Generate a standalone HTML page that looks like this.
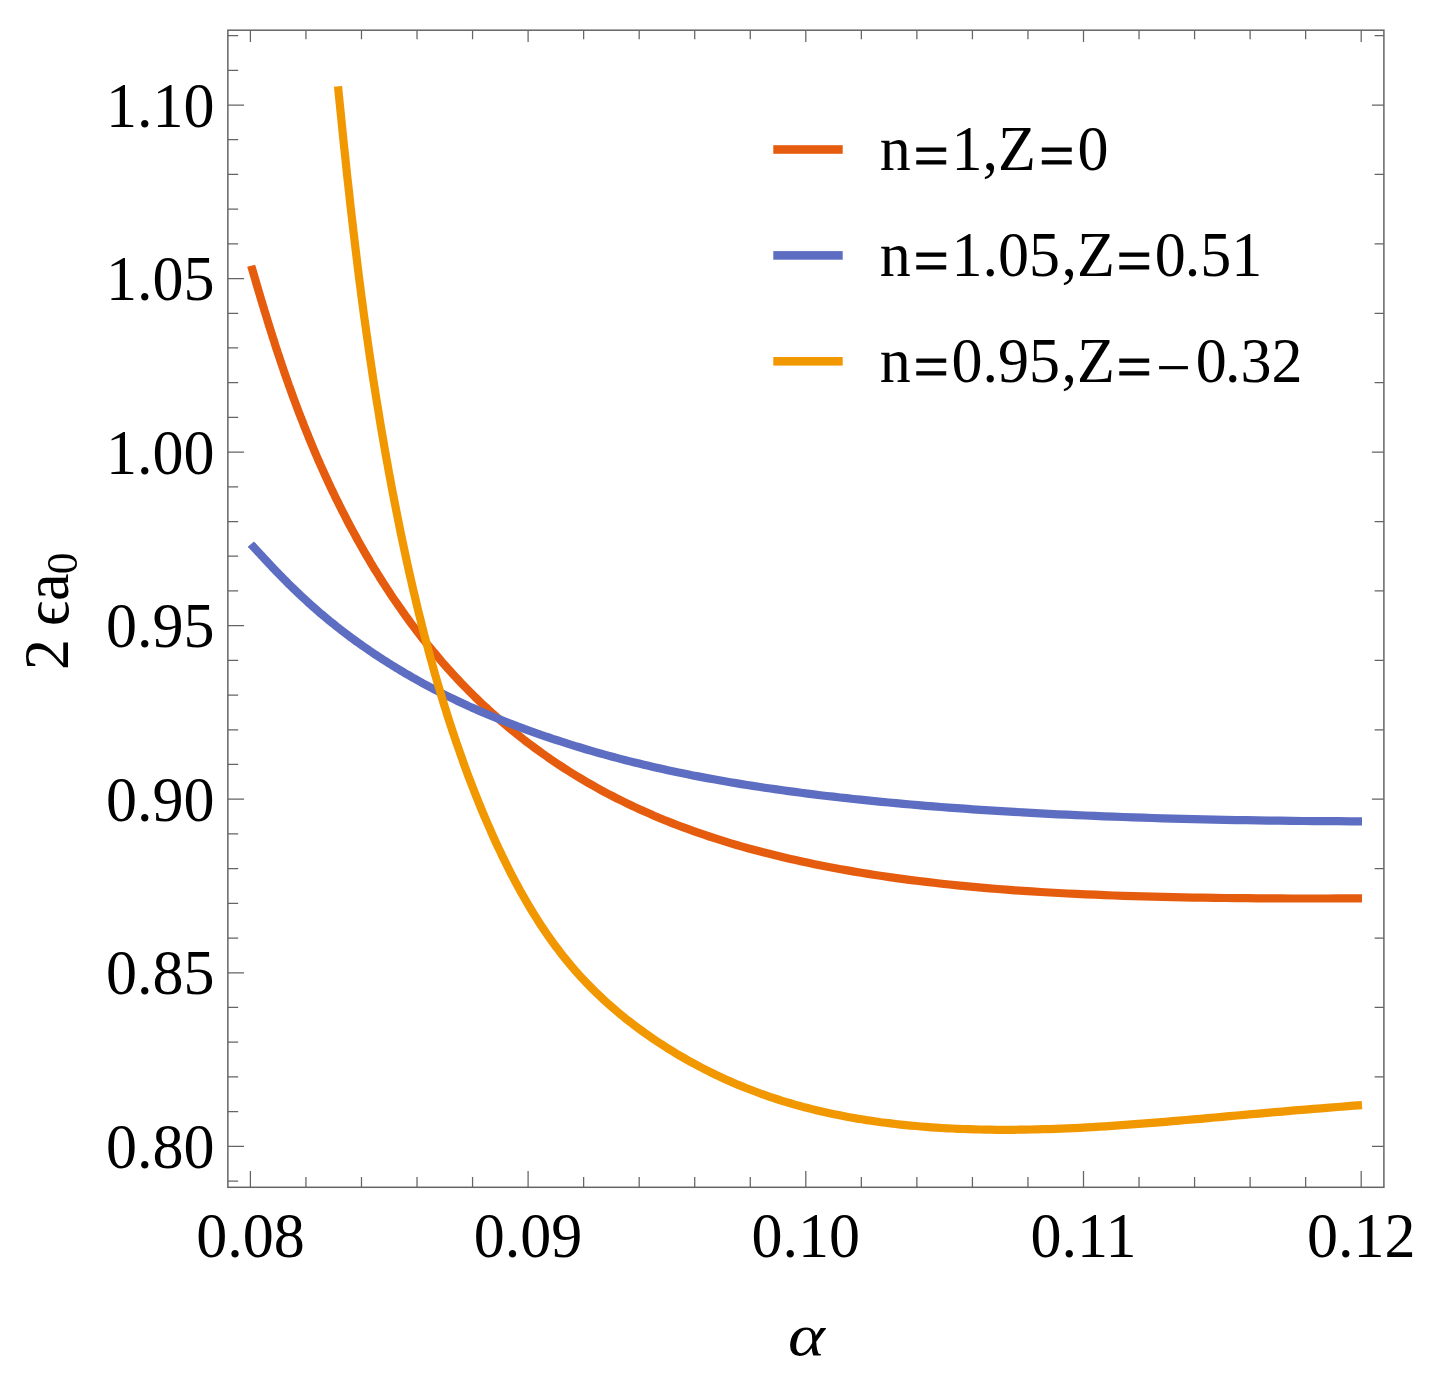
<!DOCTYPE html>
<html><head><meta charset="utf-8"><title>plot</title>
<style>html,body{margin:0;padding:0;background:#fff}svg{display:block}</style></head>
<body>
<svg width="1437" height="1373" viewBox="0 0 1437 1373">
<rect width="1437" height="1373" fill="#fff"/>
<g fill="none" stroke-linejoin="round" stroke-linecap="butt">
<path d="M251.2,265.7 L251.7,267.6 L252.3,269.4 L252.8,271.3 L253.4,273.2 L253.9,275.1 L254.5,277.0 L255.1,279.0 L255.7,281.0 L256.2,283.0 L256.8,285.0 L257.4,287.0 L258.0,289.0 L258.6,291.1 L259.3,293.2 L259.9,295.3 L260.5,297.4 L261.1,299.5 L261.8,301.6 L262.4,303.8 L263.1,306.0 L263.8,308.2 L264.4,310.4 L265.1,312.6 L265.8,314.8 L266.5,317.1 L267.2,319.4 L267.9,321.7 L268.6,324.0 L269.3,326.3 L270.0,328.6 L270.8,330.9 L271.5,333.3 L272.3,335.7 L273.0,338.0 L273.8,340.4 L274.6,342.8 L275.3,345.3 L276.1,347.7 L276.9,350.1 L277.7,352.6 L278.6,355.1 L279.4,357.6 L280.2,360.0 L281.1,362.6 L281.9,365.1 L282.8,367.6 L283.6,370.1 L284.5,372.7 L285.4,375.3 L286.3,377.8 L287.2,380.4 L288.1,383.0 L289.0,385.6 L290.0,388.2 L290.9,390.8 L291.9,393.5 L292.8,396.1 L293.8,398.8 L294.8,401.4 L295.8,404.1 L296.8,406.8 L297.8,409.5 L298.8,412.2 L299.9,414.9 L300.9,417.6 L302.0,420.3 L303.1,423.1 L304.1,425.8 L305.2,428.6 L306.3,431.3 L307.5,434.1 L308.6,436.9 L309.7,439.6 L310.9,442.4 L312.0,445.2 L313.2,448.0 L314.4,450.8 L315.6,453.7 L316.8,456.5 L318.0,459.3 L319.3,462.2 L320.5,465.0 L321.8,467.9 L323.1,470.7 L324.4,473.6 L325.7,476.4 L327.0,479.3 L328.3,482.2 L329.7,485.1 L331.0,488.0 L332.4,490.9 L333.8,493.8 L335.2,496.7 L336.6,499.6 L338.1,502.5 L339.5,505.4 L341.0,508.3 L342.5,511.3 L344.0,514.2 L345.5,517.1 L347.0,520.1 L348.5,523.0 L350.1,526.0 L351.7,528.9 L353.3,531.9 L354.9,534.8 L356.5,537.8 L358.1,540.8 L359.8,543.7 L361.5,546.7 L363.2,549.7 L364.9,552.7 L366.6,555.6 L368.4,558.6 L370.1,561.6 L371.9,564.6 L373.7,567.6 L375.5,570.6 L377.4,573.5 L379.2,576.5 L381.1,579.5 L383.0,582.5 L385.0,585.5 L386.9,588.5 L388.9,591.5 L390.8,594.5 L392.8,597.5 L394.9,600.5 L396.9,603.4 L399.0,606.4 L401.1,609.4 L403.2,612.4 L405.3,615.4 L407.5,618.3 L409.6,621.3 L411.8,624.3 L414.1,627.3 L416.3,630.2 L418.6,633.2 L420.9,636.2 L423.2,639.1 L425.5,642.1 L427.9,645.0 L430.3,647.9 L432.7,650.9 L435.2,653.8 L437.6,656.7 L440.1,659.7 L442.6,662.6 L445.2,665.5 L447.8,668.4 L450.4,671.3 L453.0,674.2 L455.6,677.0 L458.3,679.9 L461.0,682.8 L463.8,685.6 L466.6,688.5 L469.4,691.3 L472.2,694.1 L475.0,697.0 L477.9,699.8 L480.8,702.6 L483.8,705.4 L486.8,708.1 L489.8,710.9 L492.8,713.7 L495.9,716.4 L499.0,719.1 L502.1,721.9 L505.3,724.6 L508.5,727.3 L511.8,730.0 L515.0,732.6 L518.3,735.3 L521.7,737.9 L525.0,740.6 L528.5,743.2 L531.9,745.8 L535.4,748.4 L538.9,750.9 L542.5,753.5 L546.1,756.0 L549.7,758.6 L553.4,761.1 L557.1,763.6 L560.8,766.0 L564.6,768.5 L568.4,770.9 L572.3,773.4 L576.2,775.8 L580.2,778.1 L584.2,780.5 L588.2,782.9 L592.3,785.2 L596.4,787.5 L600.5,789.8 L604.7,792.1 L609.0,794.3 L613.3,796.5 L617.6,798.8 L622.0,800.9 L626.4,803.1 L630.9,805.3 L635.4,807.4 L640.0,809.5 L644.6,811.6 L649.3,813.6 L654.0,815.7 L658.8,817.7 L663.6,819.7 L668.5,821.6 L673.4,823.6 L678.3,825.5 L683.4,827.4 L688.4,829.2 L693.6,831.1 L698.7,832.9 L704.0,834.7 L709.3,836.5 L714.6,838.2 L720.0,839.9 L725.5,841.6 L731.0,843.3 L736.6,845.0 L742.2,846.6 L747.9,848.2 L753.6,849.8 L759.5,851.3 L765.3,852.8 L771.3,854.3 L777.3,855.8 L783.3,857.3 L789.4,858.7 L795.6,860.1 L801.9,861.5 L808.2,862.8 L814.6,864.2 L821.0,865.5 L827.5,866.7 L834.1,868.0 L840.8,869.2 L847.5,870.4 L854.3,871.6 L861.2,872.7 L868.1,873.9 L875.1,875.0 L882.2,876.0 L889.4,877.1 L896.6,878.1 L903.9,879.1 L911.3,880.1 L918.8,881.0 L926.3,881.9 L934.0,882.8 L941.7,883.7 L949.4,884.5 L957.3,885.3 L965.3,886.1 L973.3,886.9 L981.4,887.6 L989.6,888.3 L997.9,889.0 L1006.3,889.6 L1014.7,890.3 L1023.3,890.9 L1031.9,891.4 L1040.7,892.0 L1049.5,892.5 L1058.4,893.0 L1067.4,893.5 L1076.5,893.9 L1085.7,894.3 L1095.0,894.7 L1104.4,895.1 L1113.9,895.5 L1123.5,895.8 L1133.2,896.1 L1143.0,896.4 L1152.9,896.7 L1162.9,896.9 L1173.0,897.2 L1183.2,897.4 L1193.5,897.6 L1204.0,897.7 L1214.5,897.9 L1225.1,898.0 L1235.9,898.1 L1246.8,898.2 L1257.8,898.3 L1268.9,898.4 L1280.1,898.4 L1291.4,898.5 L1302.9,898.5 L1314.5,898.5 L1326.2,898.5 L1338.0,898.4 L1349.9,898.4 L1362.0,898.4" stroke="#E65C0E" stroke-width="8.2"/>
<path d="M250.9,544.2 L251.4,544.8 L252.0,545.3 L252.5,545.9 L253.1,546.5 L253.6,547.1 L254.2,547.7 L254.8,548.3 L255.3,548.9 L255.9,549.5 L256.5,550.2 L257.1,550.8 L257.7,551.5 L258.3,552.1 L258.9,552.8 L259.5,553.4 L260.2,554.1 L260.8,554.8 L261.4,555.5 L262.1,556.2 L262.7,556.9 L263.4,557.6 L264.1,558.3 L264.7,559.0 L265.4,559.8 L266.1,560.5 L266.8,561.2 L267.5,562.0 L268.2,562.8 L268.9,563.5 L269.7,564.3 L270.4,565.1 L271.1,565.9 L271.9,566.7 L272.6,567.5 L273.4,568.3 L274.2,569.1 L275.0,569.9 L275.7,570.7 L276.5,571.6 L277.3,572.4 L278.2,573.2 L279.0,574.1 L279.8,574.9 L280.7,575.8 L281.5,576.7 L282.4,577.6 L283.2,578.4 L284.1,579.3 L285.0,580.2 L285.9,581.1 L286.8,582.0 L287.7,582.9 L288.6,583.9 L289.5,584.8 L290.5,585.7 L291.4,586.6 L292.4,587.6 L293.4,588.5 L294.4,589.5 L295.4,590.4 L296.4,591.4 L297.4,592.4 L298.4,593.3 L299.4,594.3 L300.5,595.3 L301.5,596.3 L302.6,597.3 L303.7,598.3 L304.8,599.3 L305.9,600.3 L307.0,601.3 L308.1,602.4 L309.2,603.4 L310.4,604.4 L311.6,605.5 L312.7,606.5 L313.9,607.5 L315.1,608.6 L316.3,609.7 L317.5,610.7 L318.8,611.8 L320.0,612.9 L321.3,613.9 L322.6,615.0 L323.9,616.1 L325.2,617.2 L326.5,618.3 L327.8,619.4 L329.1,620.5 L330.5,621.6 L331.9,622.7 L333.3,623.8 L334.7,624.9 L336.1,626.1 L337.5,627.2 L339.0,628.3 L340.4,629.5 L341.9,630.6 L343.4,631.8 L344.9,632.9 L346.4,634.1 L348.0,635.2 L349.5,636.4 L351.1,637.6 L352.7,638.7 L354.3,639.9 L355.9,641.1 L357.5,642.3 L359.2,643.4 L360.9,644.6 L362.6,645.8 L364.3,647.0 L366.0,648.2 L367.8,649.4 L369.5,650.6 L371.3,651.8 L373.1,653.1 L374.9,654.3 L376.8,655.5 L378.6,656.7 L380.5,657.9 L382.4,659.2 L384.3,660.4 L386.3,661.6 L388.2,662.9 L390.2,664.1 L392.2,665.4 L394.2,666.6 L396.3,667.9 L398.3,669.1 L400.4,670.4 L402.5,671.6 L404.6,672.9 L406.8,674.2 L409.0,675.4 L411.2,676.7 L413.4,678.0 L415.6,679.2 L417.9,680.5 L420.2,681.8 L422.5,683.1 L424.8,684.3 L427.2,685.6 L429.6,686.9 L432.0,688.2 L434.5,689.5 L436.9,690.7 L439.4,692.0 L441.9,693.3 L444.5,694.6 L447.0,695.9 L449.6,697.1 L452.3,698.4 L454.9,699.7 L457.6,701.0 L460.3,702.3 L463.0,703.5 L465.8,704.8 L468.6,706.1 L471.4,707.4 L474.3,708.6 L477.2,709.9 L480.1,711.2 L483.0,712.5 L486.0,713.7 L489.0,715.0 L492.1,716.3 L495.1,717.5 L498.2,718.8 L501.4,720.1 L504.5,721.3 L507.7,722.6 L511.0,723.8 L514.3,725.1 L517.6,726.4 L520.9,727.6 L524.3,728.9 L527.7,730.1 L531.1,731.3 L534.6,732.6 L538.1,733.8 L541.7,735.1 L545.3,736.3 L548.9,737.5 L552.6,738.8 L556.3,740.0 L560.0,741.2 L563.8,742.4 L567.6,743.7 L571.5,744.9 L575.4,746.1 L579.4,747.3 L583.4,748.5 L587.4,749.7 L591.5,750.9 L595.6,752.1 L599.7,753.3 L603.9,754.4 L608.2,755.6 L612.5,756.8 L616.8,757.9 L621.2,759.1 L625.6,760.2 L630.1,761.4 L634.6,762.5 L639.2,763.6 L643.8,764.7 L648.5,765.8 L653.2,766.9 L658.0,768.0 L662.8,769.1 L667.7,770.2 L672.6,771.2 L677.5,772.3 L682.6,773.3 L687.6,774.3 L692.8,775.4 L698.0,776.4 L703.2,777.4 L708.5,778.4 L713.8,779.3 L719.2,780.3 L724.7,781.3 L730.2,782.2 L735.8,783.1 L741.4,784.1 L747.1,785.0 L752.9,785.9 L758.7,786.8 L764.6,787.7 L770.5,788.5 L776.5,789.4 L782.6,790.3 L788.7,791.1 L794.9,791.9 L801.1,792.8 L807.5,793.6 L813.8,794.4 L820.3,795.2 L826.8,796.0 L833.4,796.7 L840.1,797.5 L846.8,798.2 L853.6,799.0 L860.5,799.7 L867.4,800.4 L874.4,801.1 L881.5,801.8 L888.7,802.5 L895.9,803.2 L903.3,803.8 L910.7,804.5 L918.1,805.1 L925.7,805.8 L933.3,806.4 L941.0,807.0 L948.8,807.6 L956.7,808.2 L964.7,808.7 L972.7,809.3 L980.8,809.9 L989.0,810.4 L997.3,810.9 L1005.7,811.4 L1014.2,811.9 L1022.8,812.4 L1031.4,812.9 L1040.2,813.4 L1049.0,813.8 L1057.9,814.3 L1066.9,814.7 L1076.1,815.1 L1085.3,815.5 L1094.6,815.9 L1104.0,816.3 L1113.5,816.7 L1123.1,817.0 L1132.8,817.4 L1142.6,817.7 L1152.5,818.0 L1162.6,818.3 L1172.7,818.6 L1182.9,818.9 L1193.2,819.1 L1203.7,819.4 L1214.2,819.6 L1224.9,819.8 L1235.7,820.1 L1246.6,820.2 L1257.6,820.4 L1268.7,820.6 L1279.9,820.7 L1291.3,820.9 L1302.8,821.0 L1314.4,821.1 L1326.1,821.2 L1337.9,821.2 L1349.9,821.3 L1362.0,821.4" stroke="#5D6DC1" stroke-width="8.2"/>
<path d="M338.0,86.3 L339.0,96.3 L340.0,106.2 L341.0,116.1 L342.0,126.1 L343.0,135.9 L344.0,145.8 L345.1,155.6 L346.1,165.4 L347.1,175.1 L348.2,184.8 L349.3,194.5 L350.3,204.1 L351.4,213.6 L352.5,223.0 L353.6,232.4 L354.7,241.8 L355.8,251.0 L356.9,260.1 L358.0,269.2 L359.1,278.2 L360.3,287.1 L361.4,295.9 L362.6,304.6 L363.7,313.2 L364.9,321.8 L366.1,330.3 L367.3,338.7 L368.5,347.0 L369.7,355.3 L370.9,363.4 L372.1,371.6 L373.3,379.6 L374.6,387.6 L375.8,395.5 L377.1,403.4 L378.4,411.2 L379.6,418.9 L380.9,426.6 L382.2,434.2 L383.5,441.8 L384.8,449.4 L386.1,456.8 L387.5,464.3 L388.8,471.6 L390.2,478.9 L391.5,486.2 L392.9,493.4 L394.3,500.6 L395.7,507.7 L397.1,514.8 L398.5,521.8 L399.9,528.8 L401.3,535.7 L402.8,542.6 L404.2,549.4 L405.7,556.2 L407.1,562.9 L408.6,569.5 L410.1,576.2 L411.6,582.7 L413.1,589.3 L414.7,595.8 L416.2,602.2 L417.7,608.6 L419.3,614.9 L420.9,621.2 L422.4,627.5 L424.0,633.7 L425.6,639.8 L427.3,645.9 L428.9,652.0 L430.5,658.0 L432.2,664.0 L433.8,669.9 L435.5,675.8 L437.2,681.6 L438.9,687.4 L440.6,693.1 L442.3,698.8 L444.0,704.5 L445.8,710.1 L447.5,715.7 L449.3,721.2 L451.1,726.7 L452.9,732.1 L454.7,737.5 L456.5,742.9 L458.4,748.2 L460.2,753.5 L462.1,758.7 L463.9,764.0 L465.8,769.1 L467.7,774.3 L469.6,779.3 L471.6,784.4 L473.5,789.4 L475.5,794.4 L477.4,799.3 L479.4,804.3 L481.4,809.1 L483.4,814.0 L485.5,818.8 L487.5,823.5 L489.6,828.2 L491.6,832.9 L493.7,837.6 L495.8,842.2 L497.9,846.8 L500.1,851.3 L502.2,855.8 L504.4,860.2 L506.5,864.6 L508.7,869.0 L510.9,873.3 L513.2,877.6 L515.4,881.8 L517.7,886.0 L519.9,890.2 L522.2,894.3 L524.5,898.3 L526.8,902.3 L529.2,906.3 L531.5,910.2 L533.9,914.1 L536.3,917.9 L538.7,921.7 L541.1,925.4 L543.6,929.1 L546.0,932.7 L548.5,936.3 L551.0,939.8 L553.5,943.3 L556.0,946.7 L558.6,950.1 L561.1,953.4 L563.7,956.7 L566.3,959.9 L568.9,963.1 L571.6,966.3 L574.2,969.4 L576.9,972.4 L579.6,975.4 L582.3,978.4 L585.1,981.3 L587.8,984.2 L590.6,987.0 L593.4,989.8 L596.2,992.6 L599.0,995.3 L601.9,998.0 L604.7,1000.7 L607.6,1003.3 L610.6,1005.9 L613.5,1008.4 L616.5,1011.0 L619.4,1013.5 L622.4,1015.9 L625.4,1018.4 L628.5,1020.8 L631.6,1023.1 L634.6,1025.5 L637.8,1027.8 L640.9,1030.1 L644.0,1032.4 L647.2,1034.6 L650.4,1036.9 L653.6,1039.1 L656.9,1041.3 L660.1,1043.4 L663.4,1045.5 L666.7,1047.7 L670.1,1049.8 L673.4,1051.8 L676.8,1053.9 L680.2,1055.9 L683.7,1057.9 L687.1,1059.9 L690.6,1061.8 L694.1,1063.7 L697.7,1065.6 L701.2,1067.5 L704.8,1069.4 L708.4,1071.2 L712.0,1073.0 L715.7,1074.8 L719.4,1076.5 L723.1,1078.2 L726.9,1079.9 L730.6,1081.6 L734.4,1083.2 L738.2,1084.9 L742.1,1086.4 L746.0,1088.0 L749.9,1089.5 L753.8,1091.0 L757.8,1092.5 L761.7,1094.0 L765.8,1095.4 L769.8,1096.8 L773.9,1098.2 L778.0,1099.5 L782.1,1100.8 L786.3,1102.1 L790.5,1103.3 L794.7,1104.6 L799.0,1105.7 L803.2,1106.9 L807.6,1108.0 L811.9,1109.1 L816.3,1110.2 L820.7,1111.3 L825.1,1112.3 L829.6,1113.3 L834.1,1114.2 L838.6,1115.1 L843.2,1116.0 L847.8,1116.9 L852.4,1117.7 L857.1,1118.6 L861.8,1119.3 L866.5,1120.1 L871.3,1120.8 L876.1,1121.5 L880.9,1122.2 L885.8,1122.8 L890.7,1123.4 L895.6,1124.0 L900.6,1124.6 L905.6,1125.1 L910.7,1125.6 L915.8,1126.0 L920.9,1126.5 L926.0,1126.9 L931.2,1127.3 L936.4,1127.6 L941.7,1128.0 L947.0,1128.3 L952.4,1128.5 L957.7,1128.8 L963.2,1129.0 L968.6,1129.2 L974.1,1129.4 L979.7,1129.5 L985.2,1129.6 L990.8,1129.7 L996.5,1129.8 L1002.2,1129.8 L1007.9,1129.8 L1013.7,1129.8 L1019.5,1129.7 L1025.4,1129.6 L1031.3,1129.5 L1037.2,1129.4 L1043.2,1129.2 L1049.3,1129.1 L1055.3,1128.9 L1061.4,1128.6 L1067.6,1128.4 L1073.8,1128.1 L1080.1,1127.8 L1086.4,1127.4 L1092.7,1127.1 L1099.1,1126.7 L1105.5,1126.3 L1112.0,1125.8 L1118.5,1125.4 L1125.1,1124.9 L1131.7,1124.4 L1138.3,1123.9 L1145.1,1123.4 L1151.8,1122.9 L1158.6,1122.3 L1165.5,1121.8 L1172.4,1121.2 L1179.3,1120.6 L1186.3,1120.0 L1193.4,1119.4 L1200.5,1118.8 L1207.7,1118.1 L1214.9,1117.5 L1222.1,1116.9 L1229.4,1116.2 L1236.8,1115.5 L1244.2,1114.9 L1251.7,1114.2 L1259.2,1113.6 L1266.8,1112.9 L1274.4,1112.2 L1282.1,1111.6 L1289.8,1110.9 L1297.6,1110.2 L1305.5,1109.6 L1313.4,1108.9 L1321.3,1108.3 L1329.3,1107.6 L1337.4,1107.0 L1345.6,1106.4 L1353.7,1105.7 L1362.0,1105.1" stroke="#F19700" stroke-width="8.2"/>
</g>
<path d="M227.87,1181.01H238.17M227.87,1146.30H244.07M227.87,1111.59H238.17M227.87,1076.88H238.17M227.87,1042.17H238.17M227.87,1007.46H238.17M227.87,972.75H244.07M227.87,938.04H238.17M227.87,903.33H238.17M227.87,868.62H238.17M227.87,833.91H238.17M227.87,799.20H244.07M227.87,764.49H238.17M227.87,729.78H238.17M227.87,695.07H238.17M227.87,660.36H238.17M227.87,625.65H244.07M227.87,590.94H238.17M227.87,556.23H238.17M227.87,521.52H238.17M227.87,486.81H238.17M227.87,452.10H244.07M227.87,417.39H238.17M227.87,382.68H238.17M227.87,347.97H238.17M227.87,313.26H238.17M227.87,278.55H244.07M227.87,243.84H238.17M227.87,209.13H238.17M227.87,174.42H238.17M227.87,139.71H238.17M227.87,105.00H244.07M227.87,70.29H238.17M227.87,35.58H238.17M1383.90,1146.30H1371.90M1383.90,1076.88H1374.60M1383.90,1007.46H1374.60M1383.90,938.04H1374.60M1383.90,868.62H1374.60M1383.90,799.20H1371.90M1383.90,729.78H1374.60M1383.90,660.36H1374.60M1383.90,590.94H1374.60M1383.90,521.52H1374.60M1383.90,452.10H1371.90M1383.90,382.68H1374.60M1383.90,313.26H1374.60M1383.90,243.84H1374.60M1383.90,174.42H1374.60M1383.90,105.00H1371.90M1383.90,35.58H1374.60M250.40,1187.30V1171.00M250.40,30.20V42.10M305.94,1187.30V1176.90M305.94,30.20V39.30M361.48,1187.30V1176.90M361.48,30.20V39.30M417.02,1187.30V1176.90M417.02,30.20V39.30M472.56,1187.30V1176.90M472.56,30.20V39.30M528.10,1187.30V1171.00M528.10,30.20V42.10M583.64,1187.30V1176.90M583.64,30.20V39.30M639.18,1187.30V1176.90M639.18,30.20V39.30M694.72,1187.30V1176.90M694.72,30.20V39.30M750.26,1187.30V1176.90M750.26,30.20V39.30M805.80,1187.30V1171.00M805.80,30.20V42.10M861.34,1187.30V1176.90M861.34,30.20V39.30M916.88,1187.30V1176.90M916.88,30.20V39.30M972.42,1187.30V1176.90M972.42,30.20V39.30M1027.96,1187.30V1176.90M1027.96,30.20V39.30M1083.50,1187.30V1171.00M1083.50,30.20V42.10M1139.04,1187.30V1176.90M1139.04,30.20V39.30M1194.58,1187.30V1176.90M1194.58,30.20V39.30M1250.12,1187.30V1176.90M1250.12,30.20V39.30M1305.66,1187.30V1176.90M1305.66,30.20V39.30M1361.20,1187.30V1171.00M1361.20,30.20V42.10" stroke="#646464" stroke-width="1.25" fill="none"/>
<rect x="227.87" y="30.2" width="1156.03" height="1157.10" fill="none" stroke="#646464" stroke-width="1.5"/>
<g font-family='"Liberation Serif", "DejaVu Serif", serif' font-size="64" fill="#000">
<text transform="translate(214.60,1168.00) scale(0.96875,1)" text-anchor="end">0.80</text>
<text transform="translate(214.60,994.45) scale(0.96875,1)" text-anchor="end">0.85</text>
<text transform="translate(214.60,820.90) scale(0.96875,1)" text-anchor="end">0.90</text>
<text transform="translate(214.60,647.35) scale(0.96875,1)" text-anchor="end">0.95</text>
<text transform="translate(214.60,473.80) scale(0.96875,1)" text-anchor="end">1.00</text>
<text transform="translate(214.60,300.25) scale(0.96875,1)" text-anchor="end">1.05</text>
<text transform="translate(214.60,126.70) scale(0.96875,1)" text-anchor="end">1.10</text>
<text transform="translate(250.40,1256.90) scale(0.96875,1)" text-anchor="middle">0.08</text>
<text transform="translate(528.10,1256.90) scale(0.96875,1)" text-anchor="middle">0.09</text>
<text transform="translate(805.80,1256.90) scale(0.96875,1)" text-anchor="middle">0.10</text>
<text transform="translate(1083.50,1256.90) scale(0.96875,1)" text-anchor="middle">0.11</text>
<text transform="translate(1361.20,1256.90) scale(0.96875,1)" text-anchor="middle">0.12</text>
<text transform="translate(806.3,1355.4) scale(1.19,1)" text-anchor="middle" font-style="italic" font-size="59">α</text>
<text transform="translate(67.7,0) rotate(-90) scale(0.96875,1)"><tspan x="-691.6">2 </tspan><tspan x="-646.2">ϵ</tspan><tspan x="-620.5">a</tspan><tspan x="-592.9" dy="9.5" font-size="44.8">0</tspan></text>
<rect x="773.3" y="145.2" width="69.4" height="8.6" fill="#E65C0E"/>
<rect x="773.3" y="251.1" width="69.4" height="8.6" fill="#5D6DC1"/>
<rect x="773.3" y="357.0" width="69.4" height="8.6" fill="#F19700"/>
<text transform="translate(879.80,170.40) scale(0.96875,1)" text-anchor="start">n<tspan dx="2.99" dy="6.10" stroke="#000" stroke-width="1.1">=</tspan><tspan dx="2.99" dy="-6.10">1,Z</tspan><tspan dx="3.51" dy="6.10" stroke="#000" stroke-width="1.1">=</tspan><tspan dx="3.41" dy="-6.10">0</tspan></text>
<text transform="translate(879.80,276.30) scale(0.96875,1)" text-anchor="start">n<tspan dx="2.99" dy="6.10" stroke="#000" stroke-width="1.1">=</tspan><tspan dx="2.99" dy="-6.10">1.05</tspan><tspan dx="1.55">,Z</tspan><tspan dx="1.96" dy="6.10" stroke="#000" stroke-width="1.1">=</tspan><tspan dx="3.10" dy="-6.10">0</tspan><tspan dx="-1.03">.51</tspan></text>
<text transform="translate(879.80,382.20) scale(0.96875,1)" text-anchor="start">n<tspan dx="2.99" dy="6.10" stroke="#000" stroke-width="1.1">=</tspan><tspan dx="2.99" dy="-6.10">0.95</tspan><tspan dx="1.55">,Z</tspan><tspan dx="1.96" dy="6.10" stroke="#000" stroke-width="1.1">=</tspan><tspan dx="4.34" dy="0.20">−</tspan><tspan dx="4.95" dy="-6.30">0</tspan><tspan dx="-1.65">.32</tspan></text>
</g>
</svg>
</body></html>
